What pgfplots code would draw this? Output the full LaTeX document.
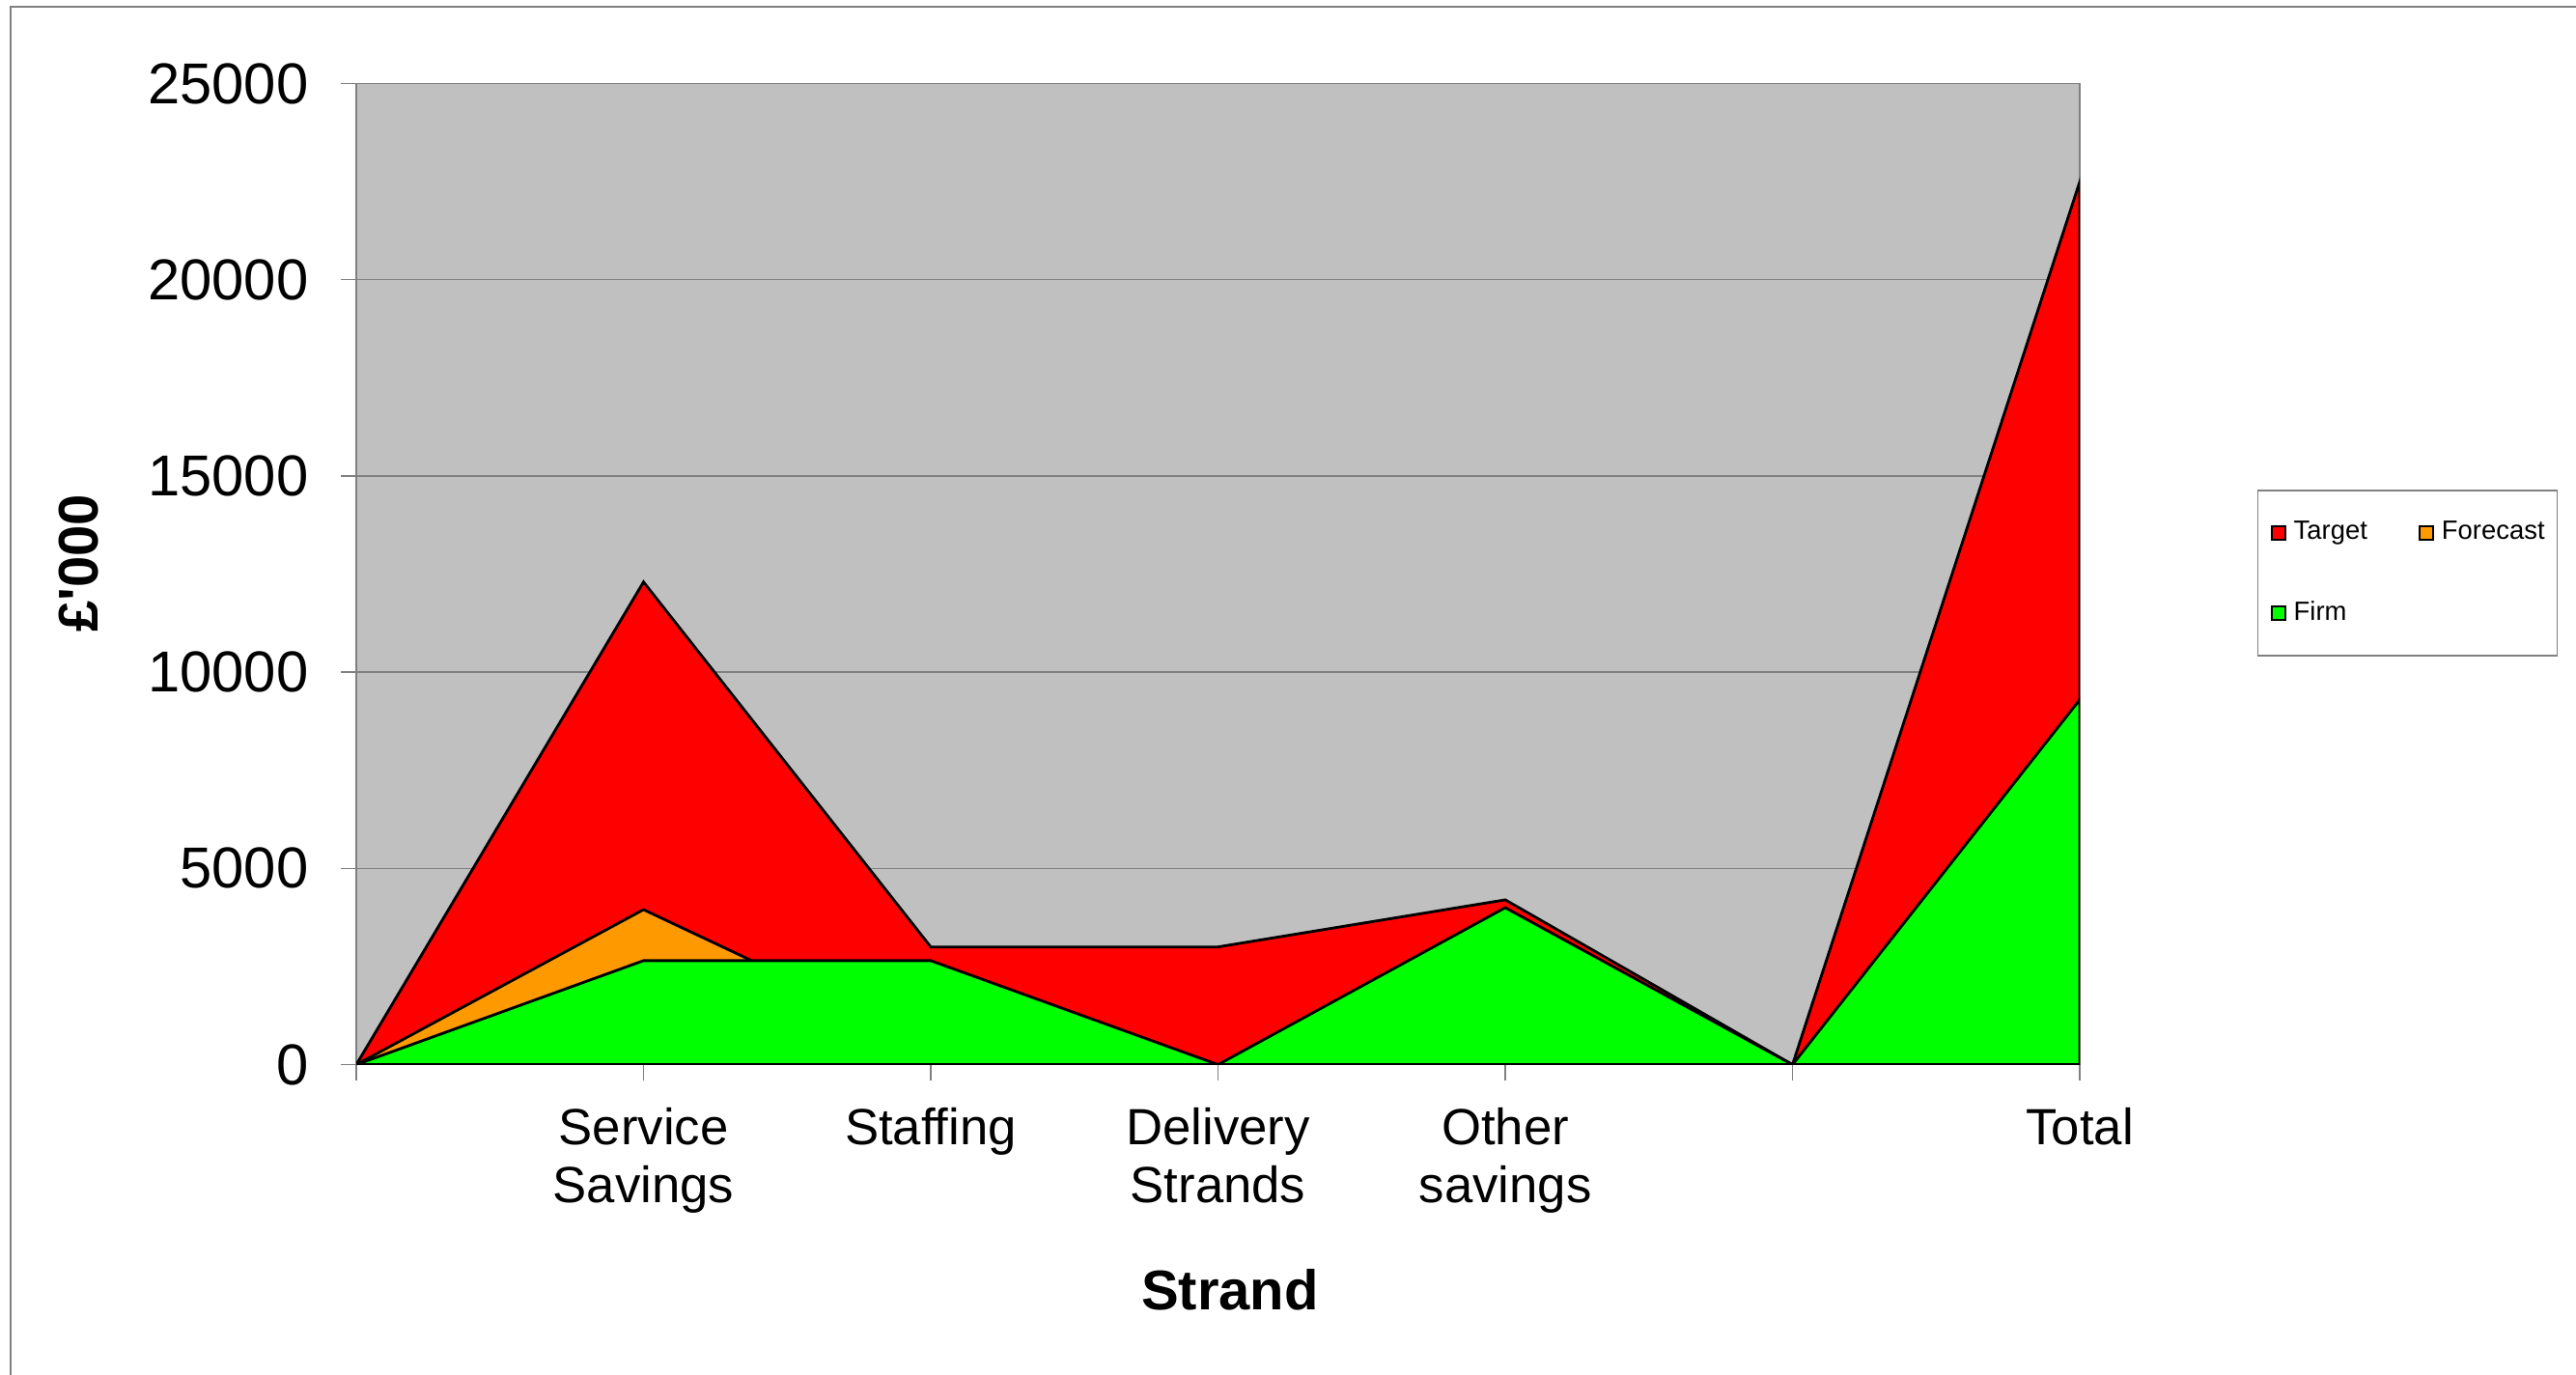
\documentclass[border=0pt]{standalone}
\usepackage{fontspec}
\setmainfont{Liberation Sans}
\usepackage{pgfplots}
\pgfplotsset{compat=1.18}
\definecolor{tgt}{HTML}{FF0000}
\definecolor{fcst}{HTML}{FF9900}
\definecolor{firm}{HTML}{00FF00}
\definecolor{bg}{HTML}{C0C0C0}
\definecolor{gridc}{HTML}{808080}
\begin{document}
\begin{tikzpicture}
\path[use as bounding box] (0,0) rectangle (26.68,14.24);
\draw[gridc, line width=0.4pt] (0.11,0) -- (0.11,14.17) -- (26.68,14.17);
\begin{axis}[
  at={(3.69cm,3.214cm)}, anchor=south west,
  scale only axis, width=17.85cm, height=10.16cm,
  xmin=0, xmax=6, ymin=0, ymax=25000,
  xtick={0,...,6},
  xticklabels={,{Service\\Savings},Staffing,{Delivery\\Strands},{Other\\savings},,Total},
  ytick={0,5000,...,25000},
  scaled y ticks=false,
  /pgf/number format/assume math mode=true,
  /pgf/number format/1000 sep={},
  tick pos=left,
  tick align=outside, major tick length=0.16cm,
  tick style={gridc, line width=0.4pt},
  ymajorgrids, grid style={gridc, line width=0.4pt},
  axis background/.style={fill=bg},
  axis line style={draw=gridc, line width=0.5pt},
  yticklabel style={font=\fontsize{17}{18}\selectfont, inner sep=0pt, xshift=-0.33cm},
  xticklabel style={font=\fontsize{15}{17}\selectfont, align=center, anchor=north, inner sep=0pt, yshift=-0.28cm},
  xlabel={\textbf{Strand}},
  ylabel={\textbf{£\textquotesingle000}},
  xlabel style={font=\fontsize{16.5}{18}\selectfont, at={(axis description cs:0.507,-0.230)}, anchor=center},
  ylabel style={font=\fontsize{16.5}{18}\selectfont, at={(axis description cs:-0.161,0.511)}, anchor=center},
  legend columns=2,
  legend image code/.code={\draw[#1,draw=black,line width=0.6pt] (0cm,-0.07cm) rectangle (0.14cm,0.07cm);},
  legend style={at={(1.103,0.586)}, anchor=north west, draw=gridc, fill=white,
    line width=0.4pt,
    font=\fontsize{7.8}{9}\selectfont,
    inner xsep=0.13cm, inner ysep=0.29cm,
    row sep=0.53cm,
    nodes={inner sep=0pt, minimum height=0.3cm},
    /tikz/every odd column/.append style={column sep=0.08cm},
    /tikz/every even column/.append style={column sep=0.53cm}},
  legend cell align=left,
]
\addplot[fill=tgt, draw=black, line width=0.8pt] coordinates {(0,0) (1,12300) (2,3000) (3,3000) (4,4200) (5,0) (6,22500)} \closedcycle;
\addlegendentry{Target}
\addplot[fill=fcst, draw=black, line width=0.8pt] coordinates {(0,0) (1,3950) (2,500) (3,0) (4,0) (5,0) (6,0)} \closedcycle;
\addlegendentry{Forecast}
\addplot[fill=firm, draw=black, line width=0.8pt] coordinates {(0,0) (1,2650) (2,2650) (3,0) (4,4000) (5,0) (6,9300)} \closedcycle;
\addlegendentry{Firm}
\end{axis}
\end{tikzpicture}
\end{document}
